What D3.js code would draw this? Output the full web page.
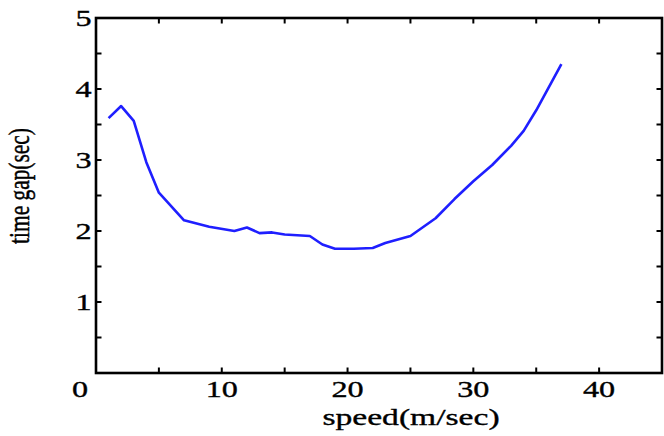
<!DOCTYPE html>
<html><head><meta charset="utf-8">
<script src="https://cdn.jsdelivr.net/npm/d3@7"></script>
<style>body{margin:0;background:#fff}svg{display:block}</style>
</head><body>
<script>
const speed = [1,2,3,4,5,7,9,11,12,13,14,15,17,18,19,20.5,22,23,25,27,28.5,30,31.5,33,34,35,37];
const timeGap = [3.59,3.76,3.55,2.97,2.54,2.15,2.06,2.0,2.05,1.97,1.98,1.95,1.93,1.81,1.75,1.75,1.76,1.83,1.93,2.18,2.45,2.70,2.93,3.2,3.41,3.70,4.35];
const xTickLabels = [10,20,30,40];
const yTickLabels = [1,2,3,4,5];
const xMinorTicks = [5,10,15,20,25,30,35,40];
const yMinorTicks = [0.5,1,1.5,2,2.5,3,3.5,4,4.5];

const W=664,H=436;
const svg=d3.select("body").append("svg").attr("width",W).attr("height",H);
const x=d3.scaleLinear().domain([0,45]).range([96,662]);
const y=d3.scaleLinear().domain([0,5]).range([373,18]);
const SX=1.4, font="'Liberation Serif', serif";

// line
svg.append("path").datum(speed.map((s,i)=>[s,timeGap[i]]))
  .attr("fill","none").attr("stroke","#1f1fff").attr("stroke-width",2.6)
  .attr("stroke-linejoin","round")
  .attr("d",d3.line().x(d=>x(d[0])).y(d=>y(d[1])));

// ticks
const tl=5.5;
const g=svg.append("g").attr("stroke","#000").attr("stroke-width",2);
xMinorTicks.forEach(v=>{
  g.append("line").attr("x1",x(v)).attr("x2",x(v)).attr("y1",y(0)).attr("y2",y(0)-tl);
  g.append("line").attr("x1",x(v)).attr("x2",x(v)).attr("y1",y(5)).attr("y2",y(5)+tl);
});
yMinorTicks.forEach(v=>{
  g.append("line").attr("y1",y(v)).attr("y2",y(v)).attr("x1",x(0)).attr("x2",x(0)+tl);
  g.append("line").attr("y1",y(v)).attr("y2",y(v)).attr("x1",x(45)).attr("x2",x(45)-tl);
});
// frame
svg.append("rect").attr("x",x(0)).attr("y",y(5)).attr("width",x(45)-x(0)).attr("height",y(0)-y(5))
  .attr("fill","none").attr("stroke","#000").attr("stroke-width",2.6);

function txt(px,py,s,anchor,size,extra){
  svg.append("text").attr("transform",`translate(${px},${py}) scale(${SX},1)${extra||""}`)
    .attr("text-anchor",anchor).attr("font-family",font).attr("font-size",size)
    .attr("fill","#000").attr("stroke","#000").attr("stroke-width",0.35).text(s);
}
xTickLabels.forEach(v=>txt(x(v),397,v,"middle",23));
yTickLabels.forEach(v=>txt(x(0)-4.5,y(v)+8,v,"end",23));
txt(80,397,"0","middle",23);
txt(411,425,"speed(m/sec)","middle",24);
txt(29,186,"time gap(sec)","middle",21.4," rotate(-90)");
</script>
</body></html>
